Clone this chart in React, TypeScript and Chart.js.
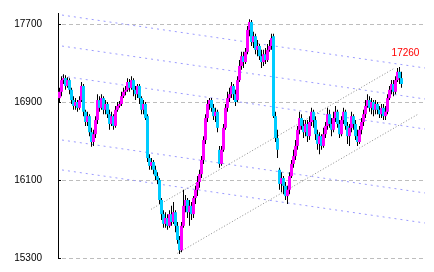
import React, { useEffect, useRef } from 'react';
import { Chart, registerables } from 'chart.js';

Chart.register(...registerables);

const Y_TICKS = [15300, 16100, 16900, 17700];
const Y_MIN = 15300;
const Y_MAX = 17813;
const X_MIN = -0.5;
const X_MAX = 183.5;

const OPENS = [
  16940, 17005, 17125, 17145, 17065, 17125, 17025, 16920, 16860, 16900,
  16840, 16920, 17065, 16800, 16695, 16755, 16590, 16490, 16570, 16715,
  16920, 16840, 16940, 16820, 16880, 16775, 16675, 16755, 16655, 16820,
  16860, 16880, 16960, 17005, 17025, 17105, 17045, 17125, 17025, 16980,
  17065, 16940, 16820, 16880, 16755, 16325, 16245, 16285, 16205, 16140,
  16100, 15895, 15750, 15650, 15710, 15630, 15750, 15670, 15770, 15630,
  15485, 15380, 15630, 15835, 15895, 15770, 15835, 15750, 15915, 16000,
  16080, 16160, 16305, 16510, 16735, 16880, 16920, 16840, 16755, 16800,
  16410, 16265, 16410, 16635, 16840, 16940, 16980, 17065, 16980, 16920,
  17125, 17270, 17370, 17310, 17415, 17640, 17720, 17515, 17575, 17435,
  17475, 17370, 17310, 17390, 17330, 17435, 17475, 17575, 16755, 16530,
  16205, 16060, 16120, 16040, 15935, 16000, 16140, 16265, 16345, 16450,
  16615, 16735, 16655, 16590, 16675, 16550, 16695, 16800, 16715, 16570,
  16470, 16550, 16450, 16570, 16655, 16775, 16675, 16615, 16735, 16800,
  16675, 16570, 16715, 16800, 16655, 16550, 16635, 16755, 16675, 16550,
  16490, 16615, 16695, 16775, 16860, 16920, 16840, 16900, 16820, 16880,
  16820, 16775, 16840, 16755, 16800, 16940, 17025, 17085, 17005, 17125,
  17210, 17145,
];

const HIGHS = [
  17045, 17165, 17185, 17175, 17155, 17145, 17045, 16960, 16940, 16920,
  16960, 17105, 17085, 16820, 16800, 16775, 16635, 16615, 16755, 16980,
  16960, 16980, 16960, 16920, 16900, 16820, 16800, 16775, 16860, 16900,
  16910, 17005, 17045, 17065, 17145, 17135, 17165, 17145, 17065, 17085,
  17085, 16960, 16920, 16900, 16775, 16365, 16325, 16305, 16245, 16180,
  16120, 15915, 15790, 15770, 15750, 15790, 15835, 15875, 15790, 15670,
  15525, 15670, 16000, 15945, 15915, 15895, 15875, 15935, 16040, 16140,
  16205, 16345, 16550, 16775, 16920, 16940, 16940, 16880, 16840, 16820,
  16450, 16450, 16675, 16880, 17005, 17045, 17105, 17085, 17025, 17165,
  17330, 17415, 17415, 17455, 17680, 17750, 17740, 17620, 17600, 17535,
  17495, 17435, 17435, 17455, 17495, 17535, 17600, 17600, 16800, 16615,
  16225, 16180, 16140, 16080, 16040, 16180, 16305, 16410, 16510, 16655,
  16800, 16775, 16715, 16715, 16715, 16755, 16840, 16820, 16755, 16615,
  16590, 16570, 16635, 16695, 16840, 16820, 16735, 16800, 16860, 16820,
  16715, 16755, 16840, 16820, 16695, 16675, 16800, 16775, 16715, 16615,
  16655, 16735, 16820, 16920, 16980, 16960, 16940, 16920, 16920, 16900,
  16860, 16880, 16880, 16860, 16980, 17065, 17125, 17125, 17165, 17250,
  17260, 17210,
];

const LOWS = [
  16900, 16960, 17085, 17025, 17045, 16980, 16880, 16820, 16820, 16800,
  16820, 16900, 16755, 16655, 16655, 16550, 16440, 16450, 16530, 16675,
  16800, 16820, 16775, 16775, 16735, 16615, 16655, 16615, 16635, 16800,
  16840, 16860, 16940, 16970, 17005, 17005, 17025, 16960, 16920, 16940,
  16880, 16775, 16775, 16715, 16285, 16205, 16205, 16160, 16100, 16060,
  15855, 15690, 15610, 15610, 15590, 15610, 15630, 15650, 15565, 15445,
  15340, 15360, 15610, 15770, 15710, 15630, 15690, 15710, 15855, 15935,
  16020, 16120, 16265, 16470, 16695, 16820, 16800, 16715, 16695, 16590,
  16225, 16245, 16390, 16615, 16800, 16900, 16940, 16920, 16860, 16900,
  17105, 17230, 17250, 17290, 17390, 17575, 17475, 17455, 17390, 17370,
  17330, 17250, 17270, 17290, 17310, 17415, 17435, 16735, 16490, 16325,
  16000, 15975, 15955, 15895, 15855, 15955, 16120, 16225, 16305, 16410,
  16570, 16615, 16530, 16550, 16490, 16510, 16655, 16635, 16510, 16410,
  16365, 16410, 16430, 16530, 16615, 16635, 16550, 16590, 16695, 16635,
  16530, 16550, 16675, 16615, 16470, 16450, 16590, 16615, 16510, 16450,
  16470, 16570, 16655, 16735, 16840, 16800, 16775, 16755, 16775, 16775,
  16735, 16735, 16715, 16715, 16775, 16920, 16980, 16960, 16980, 17105,
  17085, 17045,
];

const CLOSES = [
  17005, 17125, 17145, 17065, 17125, 17025, 16920, 16860, 16900, 16840,
  16920, 17065, 16800, 16695, 16755, 16590, 16490, 16570, 16715, 16920,
  16840, 16940, 16820, 16880, 16775, 16675, 16755, 16655, 16820, 16860,
  16880, 16960, 17005, 17025, 17105, 17045, 17125, 17025, 16980, 17065,
  16940, 16820, 16880, 16735, 16325, 16245, 16285, 16205, 16140, 16100,
  15895, 15750, 15650, 15710, 15630, 15750, 15670, 15770, 15630, 15485,
  15380, 15630, 15835, 15895, 15770, 15835, 15750, 15915, 16000, 16080,
  16160, 16305, 16510, 16735, 16880, 16920, 16840, 16755, 16800, 16635,
  16265, 16410, 16635, 16840, 16940, 16980, 17065, 16980, 16900, 17125,
  17270, 17370, 17310, 17415, 17640, 17720, 17515, 17575, 17435, 17475,
  17370, 17310, 17390, 17330, 17435, 17475, 17555, 16755, 16530, 16410,
  16060, 16120, 16040, 15935, 16000, 16140, 16265, 16345, 16450, 16615,
  16735, 16655, 16590, 16675, 16550, 16695, 16800, 16715, 16570, 16470,
  16550, 16450, 16570, 16655, 16775, 16675, 16615, 16735, 16800, 16675,
  16570, 16715, 16800, 16655, 16550, 16635, 16755, 16675, 16550, 16490,
  16615, 16695, 16775, 16860, 16920, 16840, 16900, 16820, 16880, 16820,
  16775, 16840, 16755, 16800, 16940, 17025, 17085, 17005, 17125, 17210,
  17145, 17085,
];

// Parallel descending channel lines: [startIndex, startPrice, endIndex, endPrice]
const CHANNEL_LINES = [
  [1.5, 17792, 183, 17249],
  [1.5, 17474, 183, 16931],
  [1.5, 17166, 183, 16623],
  [1.5, 16510, 183, 15967],
  [1.5, 16203, 183, 15659],
];

// Ascending support / trend lines
const TREND_LINES = [
  [59.2, 15348, 179.7, 16777],
  [46, 15799, 168, 17250],
];

const LABEL_INDEX = 170;

const UP_COLOR = '#ff00ff';
const DOWN_COLOR = '#00ccff';

const gridPlugin = {
  id: 'customGrid',
  beforeDatasetsDraw(chart: any) {
    const { ctx, chartArea, scales } = chart;
    const y = scales.y;
    ctx.save();
    ctx.lineWidth = 1;
    for (const v of Y_TICKS) {
      const py = Math.round(y.getPixelForValue(v)) + 0.5;
      ctx.setLineDash([]);
      ctx.strokeStyle = '#000000';
      ctx.beginPath();
      ctx.moveTo(chartArea.left, py);
      ctx.lineTo(chartArea.left + 3, py);
      ctx.stroke();
      ctx.setLineDash([4, 3]);
      ctx.strokeStyle = '#bdbdbd';
      ctx.beginPath();
      ctx.moveTo(chartArea.left + 4, py);
      ctx.lineTo(chartArea.right, py);
      ctx.stroke();
    }
    ctx.restore();
  },
};

const labelPlugin = {
  id: 'lastHighLabel',
  afterDatasetsDraw(chart: any) {
    const { ctx, scales } = chart;
    const px = scales.x.getPixelForValue(LABEL_INDEX);
    const py = scales.y.getPixelForValue(HIGHS[LABEL_INDEX]);
    ctx.save();
    ctx.font = '10px "Liberation Sans", Arial, sans-serif';
    ctx.fillStyle = '#ff0000';
    ctx.textAlign = 'center';
    ctx.textBaseline = 'bottom';
    ctx.fillText(String(HIGHS[LABEL_INDEX]), px + 6.5, py - 9);
    ctx.restore();
  },
};

export default function App() {
  const canvasRef = useRef<HTMLCanvasElement | null>(null);

  useEffect(() => {
    const canvas = canvasRef.current;
    if (!canvas) return;

    const bodies = OPENS.map((o, i) => ({ x: i + 0.25, y: [o, CLOSES[i]] }));
    const bodyColors = OPENS.map((o, i) => (CLOSES[i] >= o ? UP_COLOR : DOWN_COLOR));
    const wicks = LOWS.map((l, i) => ({ x: i + 0.25, y: [l, HIGHS[i]] }));

    const lineDatasets: any[] = [];
    CHANNEL_LINES.forEach((ln) => {
      lineDatasets.push({
        type: 'line',
        data: [
          { x: ln[0], y: ln[1] },
          { x: ln[2], y: ln[3] },
        ],
        borderColor: '#9a9aff',
        borderWidth: 1,
        borderDash: [2, 4],
        pointRadius: 0,
        fill: false,
        tension: 0,
        order: 10,
      });
    });
    TREND_LINES.forEach((ln) => {
      lineDatasets.push({
        type: 'line',
        data: [
          { x: ln[0], y: ln[1] },
          { x: ln[2], y: ln[3] },
        ],
        borderColor: '#8a8a8a',
        borderWidth: 1,
        borderDash: [1, 2],
        pointRadius: 0,
        fill: false,
        tension: 0,
        order: 9,
      });
    });

    const chart = new Chart(canvas, {
      type: 'bar',
      data: {
        datasets: [
          ...lineDatasets,
          {
            type: 'bar',
            data: wicks as any,
            backgroundColor: '#000000',
            borderWidth: 0,
            barThickness: 1,
            grouped: false,
            inflateAmount: 0,
            order: 2,
          },
          {
            type: 'bar',
            data: bodies as any,
            backgroundColor: bodyColors,
            borderWidth: 0,
            barThickness: 3,
            grouped: false,
            inflateAmount: 0,
            order: 1,
          },
        ],
      },
      options: {
        animation: false,
        responsive: false,
        maintainAspectRatio: false,
        events: [],
        layout: { padding: { top: 13, bottom: 14, left: 0, right: 8 } },
        plugins: {
          legend: { display: false },
          tooltip: { enabled: false },
        },
        scales: {
          x: {
            type: 'linear',
            min: X_MIN,
            max: X_MAX,
            display: false,
            offset: false,
          },
          y: {
            type: 'linear',
            min: Y_MIN,
            max: Y_MAX,
            afterFit: (scale: any) => {
              scale.width = 58;
              scale.paddingTop = 0;
              scale.paddingBottom = 0;
            },
            afterBuildTicks: (scale: any) => {
              scale.ticks = Y_TICKS.map((v) => ({ value: v }));
            },
            grid: { display: false, drawTicks: false },
            border: { display: true, color: '#000000', width: 1 },
            ticks: {
              padding: 16,
              color: '#000000',
              font: { family: '"Liberation Sans", Arial, sans-serif', size: 10 },
              callback: (v: any) => String(v),
            },
          },
        },
      } as any,
      plugins: [gridPlugin, labelPlugin],
    });

    return () => {
      chart.destroy();
    };
  }, []);

  return (
    <div
      style={{
        position: 'fixed',
        left: 0,
        top: 0,
        width: 434,
        height: 272,
        background: '#ffffff',
      }}
    >
      <canvas ref={canvasRef} width={434} height={272} style={{ display: 'block' }} />
    </div>
  );
}
